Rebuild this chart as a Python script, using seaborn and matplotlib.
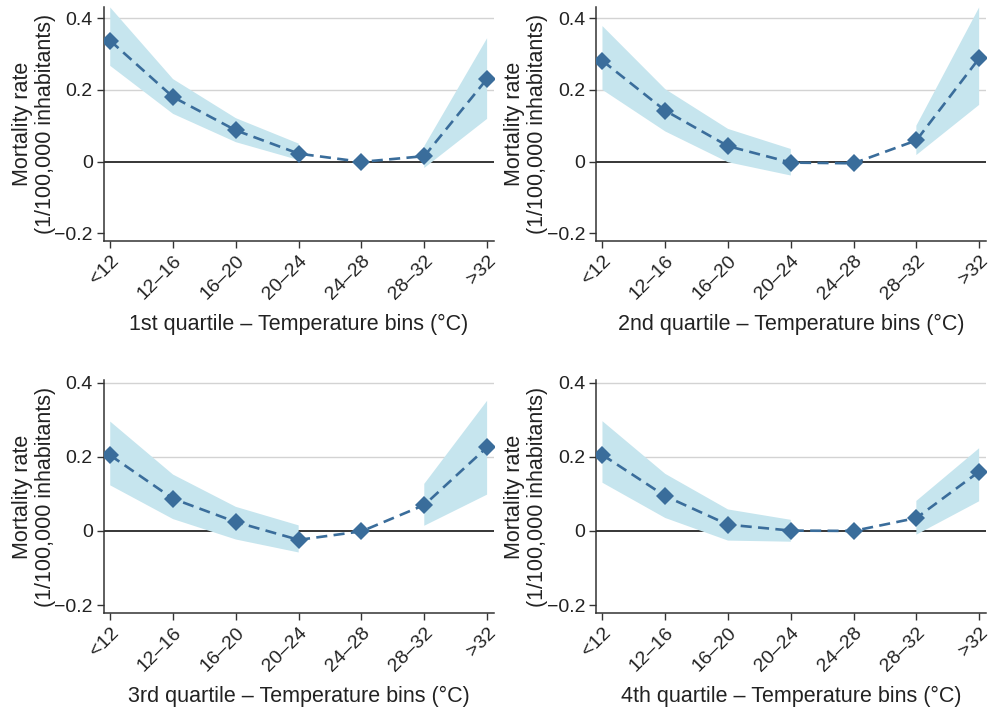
import numpy as np
import pandas as pd
import matplotlib
matplotlib.use("Agg")
import matplotlib.pyplot as plt
import seaborn as sns

bins = ["<12", "12–16", "16–20", "20–24", "24–28", "28–32", ">32"]
panel_titles = ["1st quartile", "2nd quartile", "3rd quartile", "4th quartile"]

q1_est = [0.337, 0.180, 0.087, 0.022, -0.001, 0.015, 0.231]
q1_lo = [0.267, 0.133, 0.054, 0.004, np.nan, -0.018, 0.119]
q1_hi = [0.430, 0.230, 0.121, 0.050, np.nan, 0.043, 0.344]

q2_est = [0.281, 0.142, 0.043, -0.003, -0.005, 0.059, 0.288]
q2_lo = [0.200, 0.084, -0.002, -0.039, np.nan, 0.018, 0.158]
q2_hi = [0.378, 0.202, 0.091, 0.035, np.nan, 0.100, 0.430]

q3_est = [0.204, 0.087, 0.024, -0.024, -0.001, 0.070, 0.226]
q3_lo = [0.123, 0.032, -0.023, -0.058, np.nan, 0.014, 0.098]
q3_hi = [0.295, 0.152, 0.065, 0.015, np.nan, 0.127, 0.351]

q4_est = [0.205, 0.094, 0.017, 0.001, 0.000, 0.035, 0.160]
q4_lo = [0.130, 0.035, -0.026, -0.029, np.nan, -0.010, 0.080]
q4_hi = [0.296, 0.154, 0.058, 0.030, np.nan, 0.081, 0.223]

yticks = [-0.2, 0, 0.2, 0.4]
ytick_labels = ["\u22120.2", "0", "0.2", "0.4"]

series = [(q1_est, q1_lo, q1_hi), (q2_est, q2_lo, q2_hi),
          (q3_est, q3_lo, q3_hi), (q4_est, q4_lo, q4_hi)]

sns.set_style("white")
plt.rcParams["font.family"] = ["Liberation Sans", "DejaVu Sans"]

line_color = "#3a6d9b"
band_color = "#c6e5ee"
spine_color = "#333333"
text_color = "#222222"

fig = plt.figure(figsize=(9.92, 7.09), dpi=100)
positions = [
    (0.1048, 0.660, 0.498 - 0.1048, 0.990 - 0.660),
    (0.601, 0.660, 0.994 - 0.601, 0.990 - 0.660),
    (0.1048, 0.135, 0.498 - 0.1048, 0.464 - 0.135),
    (0.601, 0.135, 0.994 - 0.601, 0.464 - 0.135),
]
ylims = [(-0.222, 0.431), (-0.222, 0.431), (-0.222, 0.407), (-0.222, 0.407)]

for i, (est, lo, hi) in enumerate(series):
    ax = fig.add_axes(positions[i])
    df = pd.DataFrame({"pos": np.arange(len(bins)), "bin": bins,
                       "est": est, "lo": lo, "hi": hi})
    for yv in [0.2, 0.4]:
        ax.axhline(yv, color="#d3d3d3", lw=1.0, zorder=0)
    ax.axhline(0, color="black", lw=1.1, zorder=1)
    ax.fill_between(df["pos"], df["lo"], df["hi"], color=band_color,
                    lw=0, zorder=2)
    sns.lineplot(data=df, x="pos", y="est", ax=ax, color=line_color,
                 linestyle=(0, (4.2, 2.4)), lw=1.9, marker="D",
                 markersize=9.5, markeredgewidth=0, zorder=3)
    ax.set_xlim(-0.10, 6.11)
    ax.set_ylim(*ylims[i])
    ax.set_xticks(df["pos"])
    ax.set_xticklabels(bins, rotation=45, ha="right", rotation_mode="anchor",
                       fontsize=14, color=text_color)
    ax.set_yticks(yticks)
    ax.set_yticklabels(ytick_labels, fontsize=14, color=text_color)
    ax.tick_params(direction="out", length=5, width=1.0, color=spine_color,
                   pad=3, bottom=True, left=True)
    for s in ["top", "right"]:
        ax.spines[s].set_visible(False)
    for s in ["left", "bottom"]:
        ax.spines[s].set_color(spine_color)
        ax.spines[s].set_linewidth(1.1)
    ax.set_xlabel(panel_titles[i] + " – Temperature bins (°C)",
                  fontsize=15.5, color=text_color, labelpad=8)
    ax.set_ylabel("Mortality rate\n(1/100,000 inhabitants)", fontsize=15.5,
                  color=text_color, linespacing=1.1, labelpad=-1)

fig.savefig("out.png", dpi=100)
